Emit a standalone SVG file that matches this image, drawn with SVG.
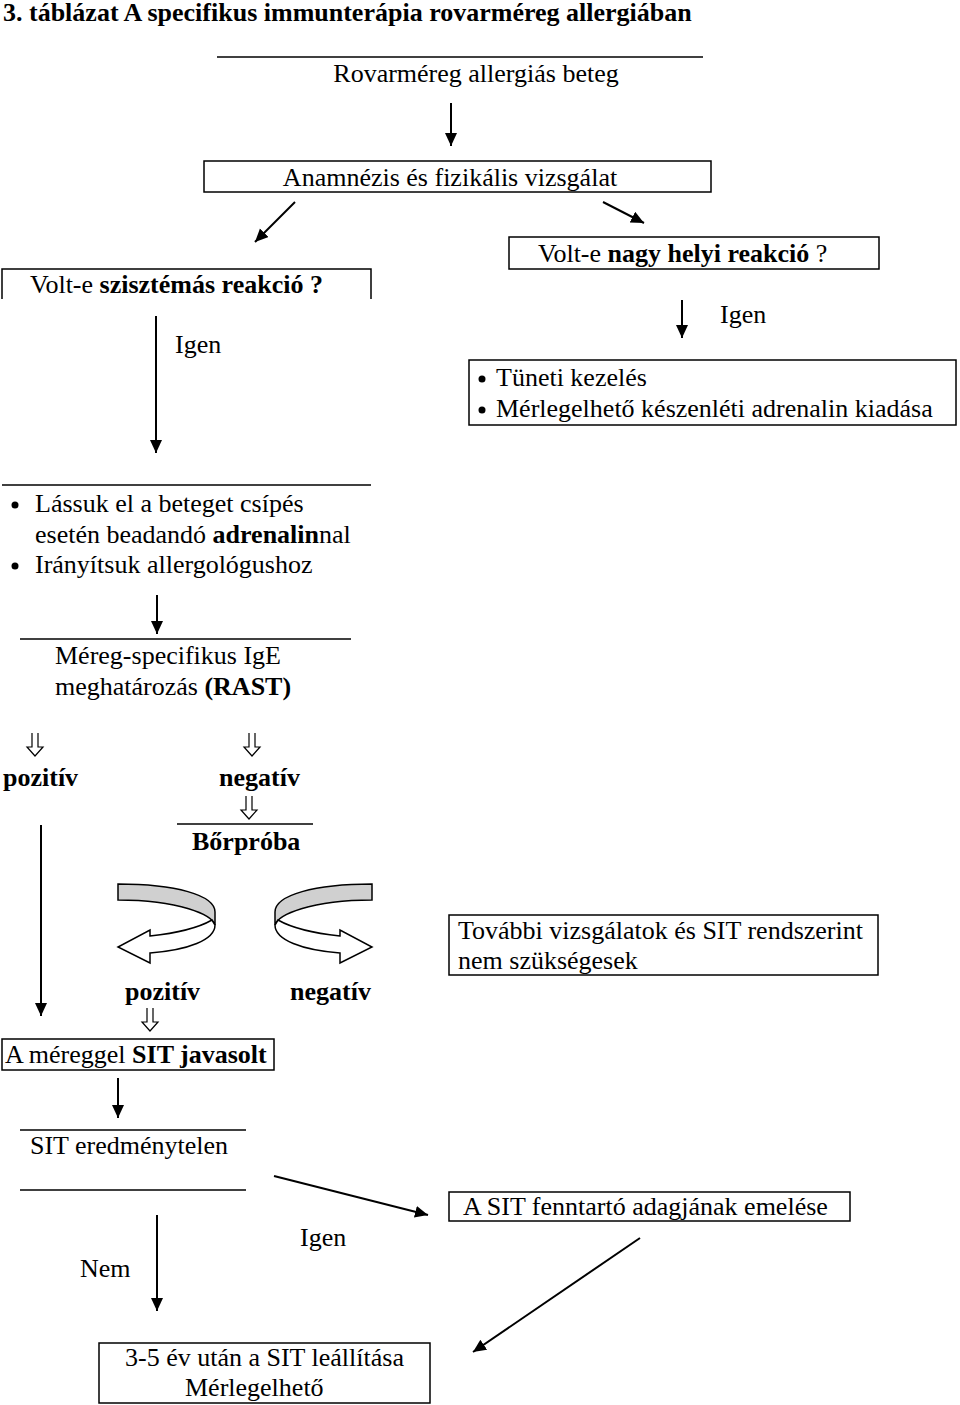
<svg xmlns="http://www.w3.org/2000/svg" xmlns:xlink="http://www.w3.org/1999/xlink" width="960" height="1405" viewBox="0 0 960 1405">
<style>
text{font-family:"Liberation Serif","Times New Roman",serif;font-size:26px;fill:#000}
.b{font-weight:bold}
.box{fill:#fff;stroke:#000;stroke-width:1.5}
.ln{stroke:#000;stroke-width:1.5;fill:none}
.ar{stroke:#000;stroke-width:2;fill:none;marker-end:url(#ah)}
.ho{fill:none;stroke:#000;stroke-width:1.2}
</style>
<defs>
<marker id="ah" markerUnits="userSpaceOnUse" markerWidth="14" markerHeight="14" refX="13" refY="6" orient="auto">
<path d="M0,0 L13,6 L0,12 Z" fill="#000"/>
</marker>
<g id="hollow">
<path class="ho" d="M-3,0 V14 H-8 L0,23 L8,14 H3 V0"/>
</g>
</defs>
<rect width="960" height="1405" fill="#fff"/>

<text id="title" class="b" x="3" y="21">3. táblázat A specifikus immunterápia rovarméreg allergiában</text>

<g id="n1"><line class="ln" x1="217" y1="57" x2="703" y2="57"/><text x="476" y="82" text-anchor="middle">Rovarméreg allergiás beteg</text></g>
<g id="n2"><rect class="box" x="204" y="161" width="507" height="31"/><text x="450" y="186" text-anchor="middle">Anamnézis és fizikális vizsgálat</text></g>
<g id="n3"><path class="ln" d="M2,299 V269 H371 V299"/><text x="30" y="293">Volt-e <tspan class="b">szisztémás reakció ?</tspan></text></g>
<g id="n4"><rect class="box" x="509" y="237" width="370" height="32"/><text x="538" y="262">Volt-e <tspan class="b">nagy helyi reakció</tspan> ?</text></g>
<g id="n5"><rect class="box" x="469" y="360" width="487" height="65"/>
<circle cx="482" cy="379" r="3.5"/><circle cx="482" cy="410" r="3.5"/>
<text x="496" y="386">Tüneti kezelés</text><text x="496" y="417">Mérlegelhető készenléti adrenalin kiadása</text></g>
<g id="n6"><line class="ln" x1="2" y1="485" x2="371" y2="485"/>
<circle cx="15" cy="505" r="3.5"/><circle cx="15" cy="566" r="3.5"/>
<text x="35" y="512">Lássuk el a beteget csípés</text>
<text x="35" y="543">esetén beadandó <tspan class="b">adrenalin</tspan>nal</text>
<text x="35" y="573">Irányítsuk allergológushoz</text></g>
<g id="n7"><line class="ln" x1="20" y1="639" x2="351" y2="639"/>
<text x="55" y="664">Méreg-specifikus IgE</text>
<text x="55" y="695">meghatározás <tspan class="b">(RAST)</tspan></text></g>
<g id="n8"><text class="b" x="3" y="786">pozitív</text></g>
<g id="n9"><text class="b" x="219" y="786">negatív</text></g>
<g id="n10"><line class="ln" x1="177" y1="824" x2="313" y2="824"/><text class="b" x="192" y="850">Bőrpróba</text></g>
<g id="n11"><text class="b" x="125" y="1000">pozitív</text></g>
<g id="n12"><text class="b" x="290" y="1000">negatív</text></g>
<g id="n13"><rect class="box" x="449" y="915" width="429" height="60"/>
<text x="458" y="939">További vizsgálatok és SIT rendszerint</text><text x="458" y="969">nem szükségesek</text></g>
<g id="n14"><rect class="box" x="2" y="1039" width="272" height="31"/><text x="5" y="1063">A méreggel <tspan class="b">SIT javasolt</tspan></text></g>
<g id="n15"><line class="ln" x1="20" y1="1130" x2="246" y2="1130"/><text x="30" y="1154">SIT eredménytelen</text><line class="ln" x1="20" y1="1190" x2="246" y2="1190"/></g>
<g id="n16"><rect class="box" x="449" y="1192" width="401" height="29"/><text x="463" y="1215">A SIT fenntartó adagjának emelése</text></g>
<g id="n17"><rect class="box" x="99" y="1343" width="331" height="60"/>
<text x="125" y="1366">3-5 év után a SIT leállítása</text><text x="185" y="1396">Mérlegelhető</text></g>

<g id="connectors">
<line class="ar" x1="451" y1="103" x2="451" y2="146"/>
<line class="ar" x1="295" y1="202" x2="255" y2="242"/>
<line class="ar" x1="603" y1="202" x2="644" y2="223"/>
<line class="ar" x1="156" y1="316" x2="156" y2="453"/>
<text x="175" y="353">Igen</text>
<line class="ar" x1="682" y1="300" x2="682" y2="338"/>
<text x="720" y="323">Igen</text>
<line class="ar" x1="157" y1="595" x2="157" y2="634"/>
<use xlink:href="#hollow" x="35" y="733"/>
<use xlink:href="#hollow" x="252" y="733"/>
<use xlink:href="#hollow" x="249" y="796"/>
<use xlink:href="#hollow" x="150" y="1008"/>
<line class="ar" x1="41" y1="825" x2="41" y2="1016"/>
<g id="curlL">
<path d="M118,884 C175,884 215,895 215,912 L215,925 C212,915 180,900 118,900 Z" fill="#d0d0d0" stroke="#000" stroke-width="1.5"/>
<path d="M212,920 C198,928 178,933 150,936 L150,930 L118,947 L150,963 L150,953 C188,950 215,940 215,925 Z" fill="#fff" stroke="#000" stroke-width="1.5"/>
</g>
<g id="curlR" transform="translate(490,0) scale(-1,1)">
<path d="M118,884 C175,884 215,895 215,912 L215,925 C212,915 180,900 118,900 Z" fill="#d0d0d0" stroke="#000" stroke-width="1.5"/>
<path d="M212,920 C198,928 178,933 150,936 L150,930 L118,947 L150,963 L150,953 C188,950 215,940 215,925 Z" fill="#fff" stroke="#000" stroke-width="1.5"/>
</g>
<line class="ar" x1="118" y1="1078" x2="118" y2="1118"/>
<line class="ar" x1="274" y1="1176" x2="428" y2="1215"/>
<text x="300" y="1246">Igen</text>
<line class="ar" x1="640" y1="1238" x2="473" y2="1352"/>
<text x="80" y="1277">Nem</text>
<line class="ar" x1="157" y1="1215" x2="157" y2="1311"/>
</g>
</svg>
